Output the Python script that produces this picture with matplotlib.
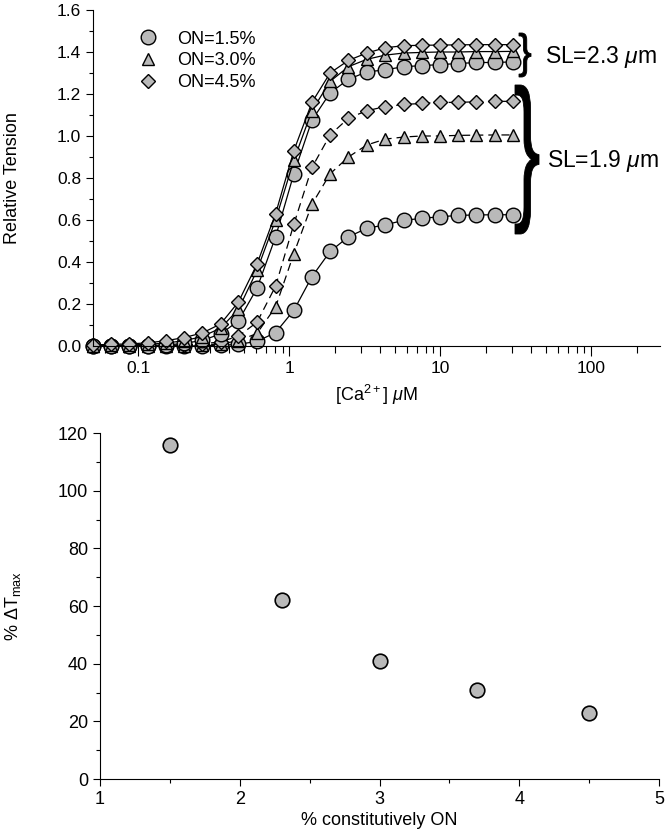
import matplotlib
matplotlib.use('Agg')
from matplotlib import pyplot as plt
from matplotlib.textpath import TextPath
from matplotlib.patches import PathPatch
from matplotlib.font_manager import FontProperties
from matplotlib.transforms import Affine2D
from matplotlib.ticker import LogLocator, FixedFormatter, FixedLocator, MultipleLocator, NullFormatter

plt.rcParams['font.family'] = ['Liberation Sans', 'DejaVu Sans']
plt.rcParams['mathtext.fontset'] = 'custom'
plt.rcParams['mathtext.rm'] = 'Liberation Sans'
plt.rcParams['mathtext.it'] = 'Liberation Sans:italic'

# [Ca2+] in uM (same for every series)
ca_uM = [0.050, 0.066, 0.087, 0.115, 0.152, 0.200, 0.265, 0.350, 0.46, 0.61,
         0.81, 1.07, 1.41, 1.86, 2.46, 3.25, 4.3, 5.7, 7.5, 9.9,
         13.1, 17.3, 22.9, 30.2]

# relative tension, SL = 2.3 um
circ_23 = [0.0, 0.0, 0.001, 0.002, 0.005, 0.012, 0.027, 0.057, 0.12, 0.275,
           0.52, 0.82, 1.075, 1.205, 1.27, 1.305, 1.315, 1.33, 1.335, 1.34,
           1.345, 1.35, 1.35, 1.353]
tri_23 = [0.002, 0.003, 0.005, 0.008, 0.014, 0.025, 0.045, 0.085, 0.175, 0.36,
          0.60, 0.885, 1.12, 1.26, 1.33, 1.365, 1.385, 1.395, 1.398, 1.40,
          1.40, 1.402, 1.402, 1.403]
dia_23 = [0.005, 0.008, 0.01, 0.015, 0.025, 0.04, 0.062, 0.105, 0.21, 0.39,
          0.63, 0.93, 1.16, 1.30, 1.36, 1.395, 1.42, 1.43, 1.432, 1.433,
          1.434, 1.435, 1.435, 1.435]

# relative tension, SL = 1.9 um
circ_19 = [0.0, 0.0, 0.0, 0.0, 0.0, 0.0, 0.001, 0.003, 0.008, 0.022,
           0.064, 0.17, 0.33, 0.45, 0.52, 0.56, 0.577, 0.598, 0.608, 0.615,
           0.622, 0.624, 0.625, 0.625]
tri_19 = [0.0, 0.0, 0.0, 0.0, 0.001, 0.002, 0.005, 0.01, 0.025, 0.06,
          0.186, 0.44, 0.675, 0.82, 0.90, 0.957, 0.985, 0.995, 1.0, 1.0,
          1.003, 1.004, 1.005, 1.005]
dia_19 = [0.0, 0.0, 0.0, 0.001, 0.002, 0.005, 0.01, 0.02, 0.047, 0.113,
          0.285, 0.58, 0.85, 1.005, 1.085, 1.12, 1.14, 1.15, 1.155, 1.16,
          1.16, 1.163, 1.165, 1.165]

legend_labels = ['ON=1.5%', 'ON=3.0%', 'ON=4.5%']

# lower panel
pct_on = [1.5, 2.3, 3.0, 3.7, 4.5]
dt_max = [116, 62, 41, 31, 23]

grey = '#b9b9b9'
W, H = 666, 838
fig = plt.figure(figsize=(W / 100, H / 100), dpi=100)

# ---- top panel
ax = fig.add_axes([93 / W, 1 - 346 / H, 567 / W, 336 / H])
mk = dict(mfc=grey, mec='black', mew=1.0, color='black', lw=0.9, clip_on=False)
dash = (0, (6.5, 4))
ax.plot(ca_uM, circ_19, marker='o', ms=10.5, ls='-', **mk)
ax.plot(ca_uM, tri_19, marker='^', ms=8.5, ls=dash, **mk)
ax.plot(ca_uM, dia_19, marker='D', ms=7, ls=dash, **mk)
h1, = ax.plot(ca_uM, circ_23, marker='o', ms=10.5, ls='-', **mk)
h2, = ax.plot(ca_uM, tri_23, marker='^', ms=8.5, ls='-', **mk)
h3, = ax.plot(ca_uM, dia_23, marker='D', ms=7, ls='-', **mk)

ax.set_xscale('log')
ax.set_xlim(0.05, 285)
ax.set_ylim(0, 1.6)
ax.xaxis.set_major_locator(FixedLocator([0.1, 1, 10, 100]))
ax.xaxis.set_major_formatter(FixedFormatter(['0.1', '1', '10', '100']))
ax.xaxis.set_minor_locator(LogLocator(base=10, subs=range(2, 10), numticks=20))
ax.xaxis.set_minor_formatter(NullFormatter())
ax.yaxis.set_major_locator(MultipleLocator(0.2))
ax.yaxis.set_minor_locator(MultipleLocator(0.1))
ax.yaxis.set_major_formatter(plt.FuncFormatter(lambda v, p: '%.1f' % v))
for s in ['top', 'right']:
    ax.spines[s].set_visible(False)
ax.tick_params(axis='x', which='major', direction='out', length=7, width=0.8, labelsize=12.5)
ax.tick_params(axis='x', which='minor', direction='out', length=5, width=0.8)
ax.tick_params(axis='y', which='major', direction='out', length=5, width=0.8, labelsize=12.5)
ax.tick_params(axis='y', which='minor', direction='out', length=3, width=0.8)
ax.set_ylabel('Relative Tension', fontsize=13)
ax.yaxis.set_label_coords(-0.127, 0.5)
ax.set_xlabel(r'[Ca$^{2+}$] $\mu$M', fontsize=13)
ax.xaxis.set_label_coords(0.5, -0.11)

leg = ax.legend([h1, h2, h3], legend_labels, loc='upper left', bbox_to_anchor=(0.062, 0.965),
                frameon=False, handlelength=1.2, handletextpad=1.0, labelspacing=0.26,
                borderpad=0, fontsize=13, numpoints=1)
for lh in leg.legend_handles:
    lh.set_linestyle('none')


def brace(x0, y0, x1, y1, weight):
    # stretched '}' glyph placed in a pixel box (top-left origin)
    tp = TextPath((0, 0), '}', size=1, prop=FontProperties(family='Liberation Sans', weight=weight))
    e = tp.get_extents()
    t = (Affine2D().translate(-e.x0, -e.y0)
         .scale((x1 - x0) / e.width / W, (y1 - y0) / e.height / H)
         .translate(x0 / W, 1 - y1 / H))
    fig.add_artist(PathPatch(t.transform_path(tp), transform=fig.transFigure,
                             fc='black', ec='black', lw=0.6))


brace(519, 33, 531, 77, 'normal')
brace(515, 85, 539, 234, 'normal')
fig.text(545 / W, 1 - 57 / H, r'SL=2.3 $\mu$m', fontsize=16.5, va='center', ha='left')
fig.text(547 / W, 1 - 161 / H, r'SL=1.9 $\mu$m', fontsize=16.5, va='center', ha='left')

# ---- bottom panel
bx = fig.add_axes([100 / W, 1 - 779 / H, 559 / W, 346 / H])
bx.plot(pct_on, dt_max, 'o', ms=10.5, mfc=grey, mec='black', mew=1.2, clip_on=False)
bx.set_xlim(1, 5)
bx.set_ylim(0, 120)
bx.xaxis.set_major_locator(MultipleLocator(1))
bx.xaxis.set_minor_locator(MultipleLocator(0.5))
bx.yaxis.set_major_locator(MultipleLocator(20))
bx.yaxis.set_minor_locator(MultipleLocator(10))
for s in ['top', 'right']:
    bx.spines[s].set_visible(False)
bx.tick_params(which='major', direction='out', length=5, width=0.8, labelsize=13)
bx.tick_params(which='minor', direction='out', length=3, width=0.8)
bx.set_ylabel(r'% $\Delta$T$_{\rm max}$', fontsize=13)
bx.yaxis.set_label_coords(-0.138, 0.5)
bx.set_xlabel('% constitutively ON', fontsize=13)
bx.xaxis.set_label_coords(0.5, -0.095)

fig.savefig('out.png', dpi=100)
